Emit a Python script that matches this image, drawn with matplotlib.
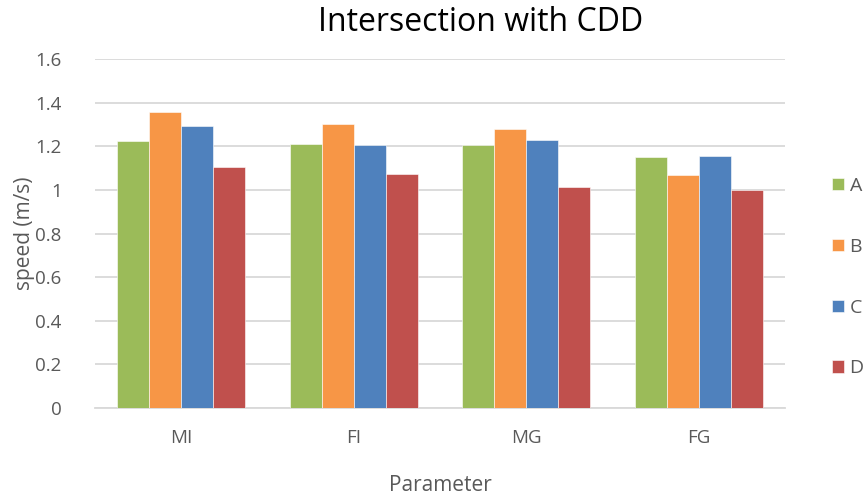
import matplotlib.pyplot as plt
import numpy as np

plt.rcParams['font.family'] = ['Open Sans', 'DejaVu Sans']

categories = ['MI', 'FI', 'MG', 'FG']
series_names = ['A', 'B', 'C', 'D']
a_vals = [1.226, 1.211, 1.208, 1.153]
b_vals = [1.356, 1.304, 1.280, 1.070]
c_vals = [1.294, 1.208, 1.229, 1.157]
d_vals = [1.106, 1.073, 1.014, 1.000]
colors = ['#9bbb59', '#f79646', '#4f81bd', '#c0504d']

fig = plt.figure(figsize=(8.67, 4.94), dpi=100)
ax = fig.add_axes([0.1096, 0.174, 0.7958, 0.7066])

x = np.arange(len(categories))
w = 0.185
for i, vals in enumerate([a_vals, b_vals, c_vals, d_vals]):
    ax.bar(x + (i - 1.5) * w, vals, w, color=colors[i], label=series_names[i],
           edgecolor='white', linewidth=0.4, zorder=3)

ax.set_xlim(-0.5, 3.5)
ax.set_ylim(0, 1.6)
ax.set_yticks(np.arange(0, 1.61, 0.2))
ax.set_yticklabels(['0', '0.2', '0.4', '0.6', '0.8', '1', '1.2', '1.4', '1.6'])
ax.set_xticks(x)
ax.set_xticklabels(categories)
ax.grid(axis='y', color='#d9d9d9', linewidth=1.3, zorder=0)
for s in ['top', 'right', 'left']:
    ax.spines[s].set_visible(False)
ax.spines['bottom'].set_color('#d9d9d9')
ax.spines['bottom'].set_linewidth(1.3)
ax.tick_params(length=0, labelsize=13.5, colors='#595959')
ax.tick_params(axis='x', pad=15)
ax.tick_params(axis='y', pad=24)

ax.set_ylabel('speed (m/s)', fontsize=15, color='#595959', labelpad=0)
ax.set_xlabel('Parameter', fontsize=15, color='#595959', labelpad=20)
fig.text(0.554, 0.955, 'Intersection with CDD', fontsize=23, color='#000000',
         ha='center', va='center')

leg = ax.legend(loc='center left', bbox_to_anchor=(1.057, 0.375), frameon=False,
                fontsize=14, labelcolor='#595959', handlelength=0.6, handleheight=0.6,
                handletextpad=0.3, labelspacing=2.2, borderaxespad=0)

fig.savefig('out.png', dpi=100)
